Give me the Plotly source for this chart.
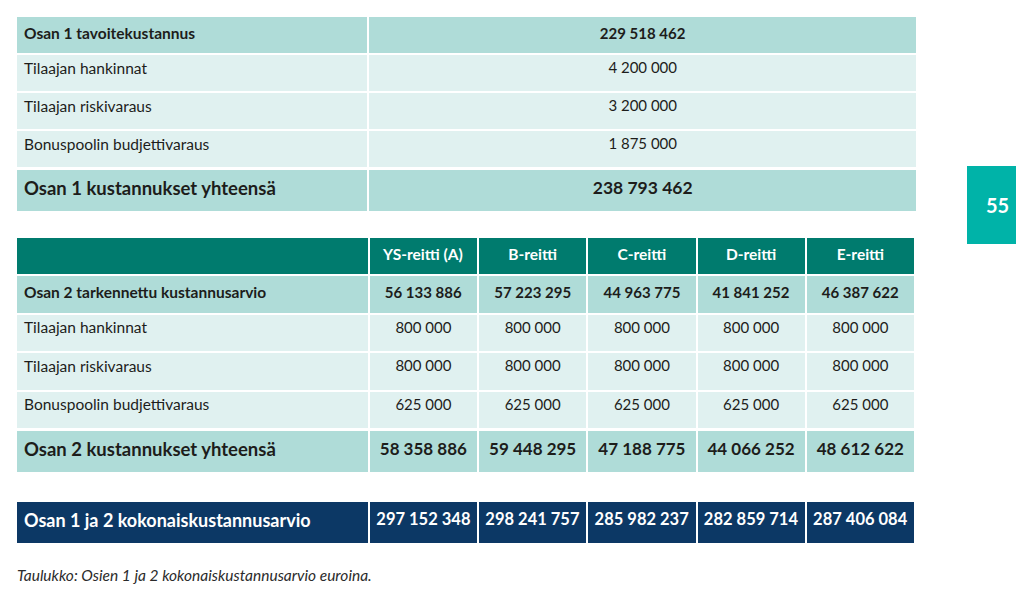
import plotly.graph_objects as go

# Part 1
part1_target_label = "Osan 1 tavoitekustannus"
part1_target = 229518462
part1_labels = ["Tilaajan hankinnat", "Tilaajan riskivaraus", "Bonuspoolin budjettivaraus"]
part1_values = [4200000, 3200000, 1875000]
part1_total_label = "Osan 1 kustannukset yhteensä"
part1_total = 238793462

# Part 2
routes = ["YS-reitti (A)", "B-reitti", "C-reitti", "D-reitti", "E-reitti"]
part2_estimate_label = "Osan 2 tarkennettu kustannusarvio"
part2_estimate = [56133886, 57223295, 44963775, 41841252, 46387622]
part2_orders = [800000, 800000, 800000, 800000, 800000]
part2_risk = [800000, 800000, 800000, 800000, 800000]
part2_bonus = [625000, 625000, 625000, 625000, 625000]
part2_total_label = "Osan 2 kustannukset yhteensä"
part2_total = [58358886, 59448295, 47188775, 44066252, 48612622]

grand_label = "Osan 1 ja 2 kokonaiskustannusarvio"
grand_total = [297152348, 298241757, 285982237, 282859714, 287406084]

caption = "Taulukko: Osien 1 ja 2 kokonaiskustannusarvio euroina."
page_no = "55"

W, H = 1024, 601
OFF = 8  # page body margin
FONT = "Lato"
TXT = "#1d1d1b"
TEAL_L = "#afdcd8"
TEAL_XL = "#e0f1f0"
GREEN = "#007b6e"
NAVY = "#0c3865"
BADGE = "#00b3a8"
WHITE_LINE = dict(color="white", width=2)


def fmt(v):
    # non-breaking spaces so the table does not wrap numbers
    return f"{v:,}".replace(",", "\u00a0")


def bold(s):
    return f"<b>{s}</b>"


def dom(x0, x1, y0, y1):
    return dict(x=[(x0 - OFF) / W, (x1 - OFF) / W], y=[1 - (y1 - OFF) / H, 1 - (y0 - OFF) / H])


def px_x(x):
    return (x - OFF) / W


def px_y(y):
    return 1 - (y - OFF) / H


fig = go.Figure()

# Osa 1
fig.add_trace(go.Table(
    domain=dom(16, 917, 16, 175),
    columnwidth=[352, 548],
    header=dict(values=[bold(part1_target_label), bold(fmt(part1_target))],
                fill_color=TEAL_L, line=WHITE_LINE,
                align=["left", "center"], height=38,
                font=dict(family=FONT, size=[15.5, 15], color=TXT)),
    cells=dict(values=[part1_labels, [fmt(v) for v in part1_values]],
               fill_color=TEAL_XL, line=WHITE_LINE,
               align=["left", "center"], height=38,
               font=dict(family=FONT, size=[15.5, 15], color=TXT)),
))
fig.add_trace(go.Table(
    domain=dom(16, 917, 169, 220),
    columnwidth=[352, 548],
    header=dict(values=[bold(part1_total_label), bold(fmt(part1_total))],
                fill_color=TEAL_L, line=WHITE_LINE,
                align=["left", "center"], height=43,
                font=dict(family=FONT, size=[18.5, 17.5], color=TXT)),
    cells=dict(values=[]),
))

# Osa 2
rows2 = [part2_estimate, part2_orders, part2_risk, part2_bonus]
labels2 = [bold(part2_estimate_label)] + part1_labels
col_vals = [labels2] + [
    [bold(fmt(rows2[0][i]))] + [fmt(r[i]) for r in rows2[1:]] for i in range(len(routes))
]
row_fill = [TEAL_L, TEAL_XL, TEAL_XL, TEAL_XL]
widths2 = [352] + [109] * len(routes)
align2 = ["left"] + ["center"] * len(routes)
fig.add_trace(go.Table(
    domain=dom(16, 915, 237, 440),
    columnwidth=widths2,
    header=dict(values=[""] + [bold(r) for r in routes],
                fill_color=GREEN, line=WHITE_LINE,
                align="center", height=38,
                font=dict(family=FONT, size=15.5, color="white")),
    cells=dict(values=col_vals,
               fill_color=[row_fill] * (len(routes) + 1),
               line=WHITE_LINE, align=align2, height=38.5,
               font=dict(family=FONT, size=[15.5] + [15] * len(routes), color=TXT)),
))
fig.add_trace(go.Table(
    domain=dom(16, 915, 430, 480),
    columnwidth=widths2,
    header=dict(values=[bold(part2_total_label)] + [bold(fmt(v)) for v in part2_total],
                fill_color=TEAL_L, line=WHITE_LINE, align=align2, height=43,
                font=dict(family=FONT, size=[18.5] + [17] * len(routes), color=TXT)),
    cells=dict(values=[]),
))

# Osat 1 ja 2 yhteensä
fig.add_trace(go.Table(
    domain=dom(16, 915, 501, 552),
    columnwidth=widths2,
    header=dict(values=[bold(grand_label)] + [bold(fmt(v)) for v in grand_total],
                fill_color=NAVY, line=WHITE_LINE, align=align2, height=43,
                font=dict(family=FONT, size=[18] + [16.5] * len(routes), color="white")),
    cells=dict(values=[]),
))

# page number tab
fig.add_shape(type="rect", xref="paper", yref="paper",
              x0=px_x(967), x1=px_x(1030), y0=px_y(244), y1=px_y(166),
              fillcolor=BADGE, line=dict(width=0), layer="below")
fig.add_annotation(x=px_x(997), y=px_y(205), xref="paper", yref="paper",
                   xanchor="center", yanchor="middle",
                   text=bold(page_no), showarrow=False,
                   font=dict(family=FONT, size=20, color="white"))
fig.add_annotation(x=px_x(15), y=px_y(575), xref="paper", yref="paper",
                   xanchor="left", yanchor="middle", text=f"<i>{caption}</i>", showarrow=False,
                   font=dict(family=FONT, size=15.5, color="#2b2b2b"))

fig.update_layout(width=W, height=H, margin=dict(l=0, r=0, t=0, b=0),
                  paper_bgcolor="white", plot_bgcolor="white", showlegend=False)

fig.write_html("out.html")
